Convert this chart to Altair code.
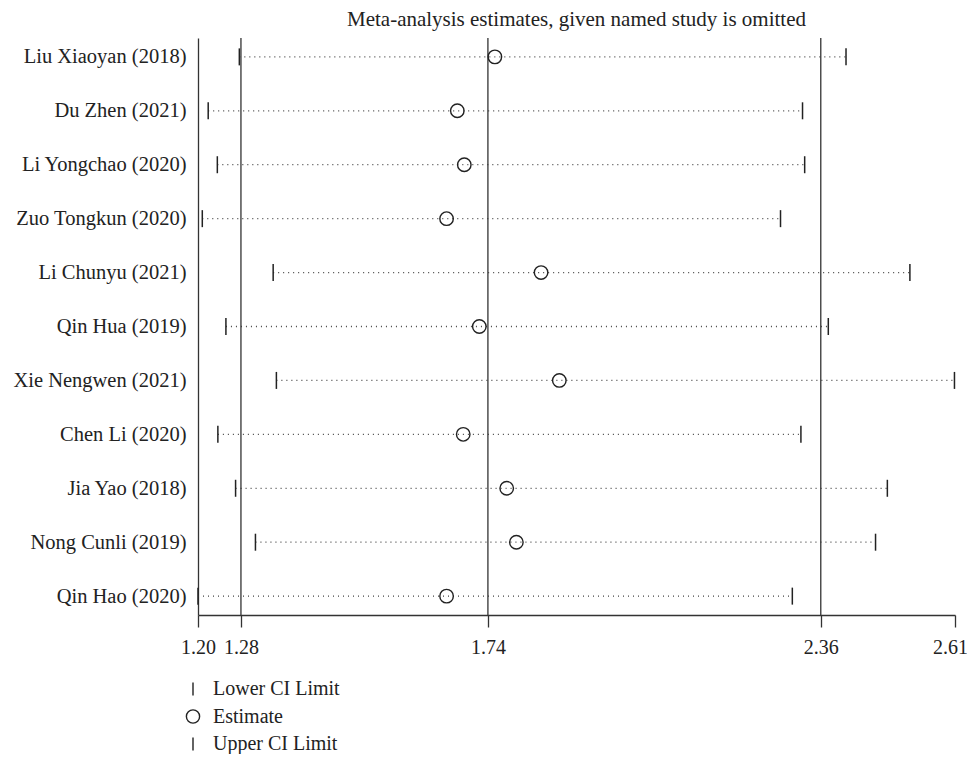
import altair as alt
import pandas as pd

studies = ["Liu Xiaoyan (2018)", "Du Zhen (2021)", "Li Yongchao (2020)", "Zuo Tongkun (2020)",
           "Li Chunyu (2021)", "Qin Hua (2019)", "Xie Nengwen (2021)", "Chen Li (2020)",
           "Jia Yao (2018)", "Nong Cunli (2019)", "Qin Hao (2020)"]
lower = [1.277, 1.219, 1.236, 1.208, 1.340, 1.252, 1.346, 1.237, 1.270, 1.307, 1.200]
estimate = [1.753, 1.683, 1.696, 1.663, 1.839, 1.724, 1.873, 1.694, 1.775, 1.793, 1.663]
upper = [2.407, 2.326, 2.330, 2.285, 2.526, 2.374, 2.609, 2.323, 2.484, 2.462, 2.307]
ref_lines = [1.28, 1.74, 2.36]
x_ticks = [1.20, 1.28, 1.74, 2.36, 2.61]
legend_labels = ["Lower CI Limit", "Estimate", "Upper CI Limit"]
title_text = "Meta-analysis estimates, given named study is omitted"

FONT = "Liberation Serif"
INK = "#222222"
VPATH = "M0,-1L0,1"

wide = pd.DataFrame({"study": studies, "lower": lower, "estimate": estimate, "upper": upper})
long_rows = []
for s, lo, es, up in zip(studies, lower, estimate, upper):
    long_rows.append({"study": s, "type": legend_labels[0], "value": lo})
    long_rows.append({"study": s, "type": legend_labels[1], "value": es})
    long_rows.append({"study": s, "type": legend_labels[2], "value": up})
long = pd.DataFrame(long_rows)
refs = pd.DataFrame({"value": ref_lines})

xscale = alt.Scale(domain=[x_ticks[0], x_ticks[-1]], nice=False, zero=False)
yscale = alt.Scale(type="point", padding=0.35)

x_axis = alt.Axis(values=x_ticks, format=".2f", title=None, grid=False, tickSize=12,
                  labelPadding=10, labelFont=FONT, labelFontSize=20, labelColor=INK,
                  domainColor="#333", tickColor="#333", domainWidth=1.3, tickWidth=1.3,
                  labelFlush=False, labelOverlap=False,
                  labelOffset={"condition": {"test": "datum.value > 2.6", "value": -5}, "value": 0})
y_axis = alt.Axis(title=None, ticks=False, tickSize=0, labelPadding=12, labelFont=FONT,
                  labelFontSize=20.5, labelColor=INK, domainColor="#333", domainWidth=1.3,
                  grid=False)

shape_scale = alt.Scale(domain=legend_labels, range=[VPATH, "circle", VPATH])

dots = alt.Chart(wide).mark_rule(color="#444", strokeDash=[1, 4], strokeWidth=1.3).encode(
    x=alt.X("lower:Q", scale=xscale, axis=x_axis),
    x2="upper:Q",
    y=alt.Y("study:N", sort=studies, scale=yscale, axis=y_axis),
)

vlines = alt.Chart(refs).mark_rule(color="#333", strokeWidth=1.3).encode(
    x=alt.X("value:Q", scale=xscale)
)

limits = alt.Chart(long).transform_filter(
    alt.datum.type != legend_labels[1]
).mark_point(filled=False, size=289, strokeWidth=1.5, color=INK, opacity=1).encode(
    x=alt.X("value:Q", scale=xscale),
    y=alt.Y("study:N", sort=studies, scale=yscale),
    shape=alt.Shape("type:N", scale=shape_scale,
                    legend=alt.Legend(title=None, orient="none", legendX=-15, legendY=641,
                                      labelFont=FONT, labelFontSize=20, labelColor=INK,
                                      symbolSize=175, symbolStrokeWidth=1.4,
                                      symbolStrokeColor=INK, labelOffset=10, rowPadding=7.5,
                                      values=legend_labels)),
)

ests = alt.Chart(long).transform_filter(
    alt.datum.type == legend_labels[1]
).mark_point(filled=False, size=182, strokeWidth=1.4, color=INK, opacity=1).encode(
    x=alt.X("value:Q", scale=xscale),
    y=alt.Y("study:N", sort=studies, scale=yscale),
    shape=alt.Shape("type:N", scale=shape_scale),
)

chart = alt.layer(dots, vlines, limits, ests).properties(
    width=757,
    height=577,
    title=alt.TitleParams(title_text, font=FONT, fontSize=21, fontWeight="normal",
                          color=INK, anchor="middle", offset=7),
    autosize=alt.AutoSizeParams(type="none"),
    padding={"left": 190, "top": 30, "right": 12, "bottom": 139},
).configure_view(stroke=None)

chart.save("out.html", embed_options={"renderer": "svg", "actions": False})
